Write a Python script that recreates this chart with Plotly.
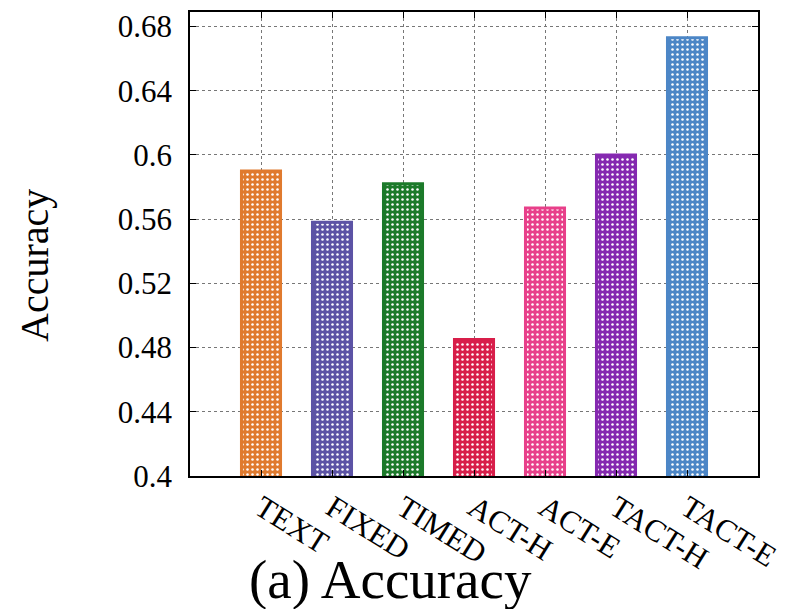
import plotly.graph_objects as go

categories = ["TEXT", "FIXED", "TIMED", "ACT-H", "ACT-E", "TACT-H", "TACT-E"]
accuracy = [0.590, 0.558, 0.582, 0.485, 0.567, 0.600, 0.673]
colors = ["#E07A2E", "#5C53A5", "#1C7A2A", "#D81E4A", "#E8408A", "#8529B0", "#4C86C6"]
y_ticks = [0.4, 0.44, 0.48, 0.52, 0.56, 0.6, 0.64, 0.68]
y_tick_text = ["0.4", "0.44", "0.48", "0.52", "0.56", "0.6", "0.64", "0.68"]

font_family = "Liberation Serif, Times New Roman, serif"

# page body has an 8px default margin; compensate so the plot lands where the reference has it
L, T, R, B = 182, 2, 43, 133
W, H = 793, 601

fig = go.Figure()
for cat, val, col in zip(categories, accuracy, colors):
    fig.add_trace(go.Bar(
        x=[cat],
        y=[val],
        width=0.55,
        marker=dict(
            color=col,
            line=dict(color=col, width=3),
            pattern=dict(
                shape=".",
                fgcolor="#ffffff",
                fgopacity=1,
                size=5, solidity=0.2, fillmode="overlay",
            ),
        ),
        showlegend=False,
    ))

fig.update_layout(
    width=W, height=H,
    margin=dict(l=L, r=R, t=T, b=B),
    paper_bgcolor="white", plot_bgcolor="white",
    font=dict(family=font_family, color="black"),
    barmode="overlay",
)

fig.update_xaxes(
    type="category",
    categoryorder="array", categoryarray=categories,
    range=[-1, 7],
    showline=True, linecolor="black", linewidth=1.5, mirror="ticks",
    ticks="inside", ticklen=6, tickcolor="black",
    showgrid=True, gridcolor="#777777", griddash="dot", gridwidth=1,
    tickangle=32,
    tickfont=dict(size=31, family=font_family),
)
fig.update_yaxes(
    range=[0.4, 0.689],
    tickvals=y_ticks, ticktext=y_tick_text,
    showline=True, linecolor="black", linewidth=1.5, mirror="ticks",
    ticks="inside", ticklen=6, tickcolor="black",
    showgrid=True, gridcolor="#777777", griddash="dot", gridwidth=1,
    zeroline=False,
    tickfont=dict(size=31, family=font_family),
    ticklabelstandoff=10,
)

pw = W - L - R
ph = H - T - B
fig.add_annotation(
    text="Accuracy", textangle=-90,
    xref="paper", yref="paper", x=(35 - 190) / pw, y=(476 - 265) / ph,
    xanchor="center", yanchor="middle", showarrow=False,
    font=dict(size=40, family=font_family),
)
fig.add_annotation(
    text="(a) Accuracy",
    xref="paper", yref="paper", x=(390 - 190) / pw, y=(476 - 580) / ph,
    xanchor="center", yanchor="middle", showarrow=False,
    font=dict(size=55, family=font_family),
)

fig.write_html("out.html")
